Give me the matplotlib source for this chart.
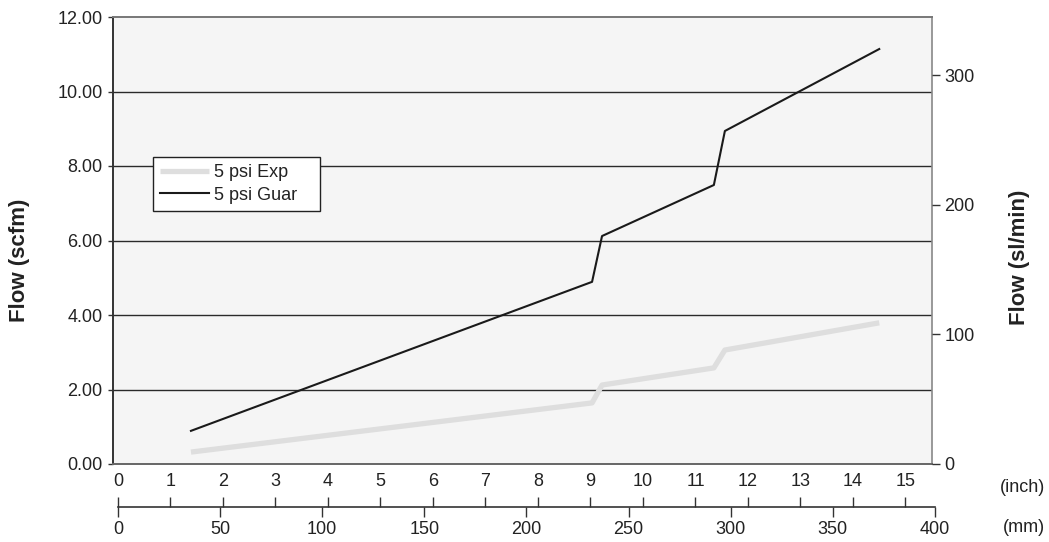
import numpy as np
import matplotlib
matplotlib.use("Agg")
import matplotlib.pyplot as plt

plt.rcParams['font.family'] = ['Liberation Sans', 'DejaVu Sans']

# Data (x in inch, y in scfm)
x_inch = [1.39, 9.03, 9.22, 11.35, 11.56, 14.50]
exp_scfm = [0.32, 1.64, 2.12, 2.58, 3.06, 3.79]
guar_scfm = [0.89, 4.89, 6.12, 7.49, 8.94, 11.14]

y_ticks = [0, 2, 4, 6, 8, 10, 12]
slm_ticks = [0, 100, 200, 300]
inch_ticks = list(range(0, 16))
mm_ticks = [0, 50, 100, 150, 200, 250, 300, 350, 400]

W, H = 1049, 542
text_col = "#222222"
tick_col = "#333333"

fig = plt.figure(figsize=(W / 100, H / 100), dpi=100)

# main plot area (pixel box 113..932 x 17..464)
ax = fig.add_axes([113 / W, (H - 464) / H, 819 / W, 447 / H])
ax.set_facecolor("#f5f5f5")
ax.set_xlim(-0.095, 15.505)
ax.set_ylim(0, 12)
ax.set_yticks(y_ticks)
ax.set_yticklabels([f"{v:.2f}" for v in y_ticks], fontsize=13, color=text_col)
ax.tick_params(axis='y', length=3.6, width=1, color=tick_col, pad=4)
ax.set_xticks([])
for yv in y_ticks[1:-1]:
    ax.axhline(yv, color="#2a2a2a", lw=1.0, zorder=1)
ax.spines['left'].set_color("#333333")
ax.spines['left'].set_linewidth(1.4)
ax.spines['bottom'].set_color("#666666")
ax.spines['bottom'].set_linewidth(1.4)
ax.spines['top'].set_color("#777777")
ax.spines['top'].set_linewidth(1.4)
ax.spines['right'].set_color("#888888")
ax.spines['right'].set_linewidth(1.2)

ax.plot(x_inch, exp_scfm, color="#dedede", lw=3.8, solid_capstyle='butt',
        label="5 psi Exp", zorder=3)
ax.plot(x_inch, guar_scfm, color="#1a1a1a", lw=1.5, label="5 psi Guar", zorder=4)

# legend box spans pixels 153..320 x 157..211
leg_w = (320 - 153) / 819
leg_h = (211 - 157) / 447
leg = ax.legend(loc='upper left', mode='expand',
                bbox_to_anchor=((153 - 113) / 819, (464 - 211) / 447, leg_w, leg_h),
                borderaxespad=0, fontsize=13, frameon=True, fancybox=False,
                handlelength=2.7, handletextpad=0.3, labelspacing=0.3, borderpad=0.4)
leg.get_frame().set_edgecolor("#222222")
leg.get_frame().set_linewidth(1.0)
leg.get_frame().set_facecolor("white")
leg.get_frame().set_alpha(1)
for t in leg.get_texts():
    t.set_color(text_col)

# right axis in sl/min
ax2 = ax.twinx()
ax2.set_ylim(0, 345)
ax2.set_yticks(slm_ticks)
ax2.set_yticklabels([str(v) for v in slm_ticks], fontsize=13, color=text_col)
ax2.tick_params(axis='y', length=5.8, width=1, color=tick_col, pad=3)
for s in ax2.spines.values():
    s.set_visible(False)

# axis titles
fig.text(20 / W, 1 - 260 / H, "Flow (scfm)", rotation=90, ha='center', va='center',
         fontsize=16, fontweight='bold', color=text_col,
         family=['Liberation Sans Narrow', 'Liberation Sans', 'DejaVu Sans'])
fig.text(1019 / W, 1 - 257 / H, "Flow (sl/min)", rotation=90, ha='center', va='center',
         fontsize=16, fontweight='bold', color=text_col,
         family=['Liberation Sans Narrow', 'Liberation Sans', 'DejaVu Sans'])

# length scale below the chart (line at y=507 px, x 118..935)
axs = fig.add_axes([118 / W, (H - 507) / H, 817 / W, 0.0001])
axs.set_facecolor("none")
axs.set_xlim(0, 400)
axs.set_yticks([])
axs.set_xticks(mm_ticks)
axs.set_xticklabels([str(v) for v in mm_ticks], fontsize=13, color=text_col)
axs.tick_params(axis='x', direction='out', length=7.2, width=1, color=tick_col, pad=3.2)
for k in ['left', 'right', 'top']:
    axs.spines[k].set_visible(False)
axs.spines['bottom'].set_color(tick_col)
axs.spines['bottom'].set_linewidth(1.2)

axi = axs.twiny()
axi.set_facecolor("none")
axi.set_xlim(0, 817 / 52.5)
axi.set_xticks(inch_ticks)
axi.set_xticklabels([str(v) for v in inch_ticks], fontsize=13, color=text_col)
axi.tick_params(axis='x', direction='out', length=7.2, width=1, color=tick_col, pad=5)
for s in axi.spines.values():
    s.set_visible(False)

fig.text(1000 / W, 1 - 488 / H, "(inch)", ha='left', va='center', fontsize=13, color=text_col)
fig.text(1003 / W, 1 - 528 / H, "(mm)", ha='left', va='center', fontsize=13, color=text_col)

fig.savefig("out.png", dpi=100, facecolor="white")
